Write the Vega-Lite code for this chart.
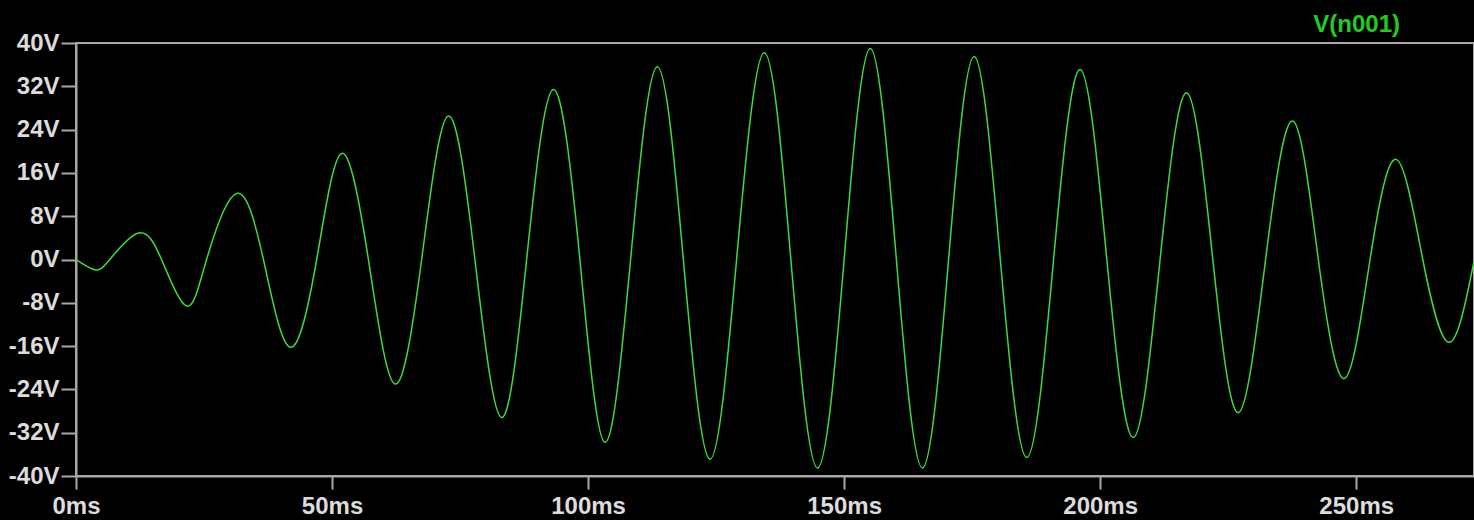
{
  "$schema": "https://vega.github.io/schema/vega-lite/v6.json",
  "autosize": {"type": "none"},
  "width": 1398,
  "height": 433,
  "padding": {"left": 76, "top": 43, "right": 0, "bottom": 44},
  "background": "#000000",
  "title": {
    "text": "V(n001)",
    "anchor": "end",
    "dx": -74,
    "dy": 8,
    "offset": 2,
    "fontSize": 24,
    "font": "Liberation Sans",
    "fontWeight": "bold",
    "color": "#22cc22"
  },
  "config": {
    "view": {"stroke": "#a8a8a8", "strokeWidth": 2, "fill": "#000000"},
    "axis": {
      "grid": false,
      "domainColor": "#a8a8a8",
      "domainWidth": 2,
      "tickColor": "#a8a8a8",
      "tickWidth": 2,
      "labelFont": "Liberation Sans",
      "labelFontWeight": "bold",
      "labelFontSize": 24,
      "labelColor": "#dcdcdc",
      "title": null
    }
  },
  "data": {
    "values": [
      {"t": 0, "v": 0},
      {"t": 3.7, "v": -1.9},
      {"t": 6.6, "v": 0},
      {"t": 12.2, "v": 4.9},
      {"t": 16.7, "v": 0},
      {"t": 21.6, "v": -8.6},
      {"t": 25.5, "v": 0},
      {"t": 31.4, "v": 12.2},
      {"t": 36.6, "v": 0},
      {"t": 41.8, "v": -16.2},
      {"t": 47.0, "v": 0},
      {"t": 51.9, "v": 19.6},
      {"t": 57.1, "v": 0},
      {"t": 62.3, "v": -23.0},
      {"t": 67.5, "v": 0},
      {"t": 72.7, "v": 26.5},
      {"t": 77.9, "v": 0},
      {"t": 83.1, "v": -29.2},
      {"t": 88.0, "v": 0},
      {"t": 93.2, "v": 31.4},
      {"t": 98.4, "v": 0},
      {"t": 103.3, "v": -33.8},
      {"t": 108.3, "v": 0},
      {"t": 113.5, "v": 35.6},
      {"t": 118.6, "v": 0},
      {"t": 123.8, "v": -36.9},
      {"t": 129.0, "v": 0},
      {"t": 134.4, "v": 38.2},
      {"t": 139.6, "v": 0},
      {"t": 144.8, "v": -38.5},
      {"t": 150.0, "v": 0},
      {"t": 155.1, "v": 39.0},
      {"t": 160.2, "v": 0},
      {"t": 165.3, "v": -38.5},
      {"t": 170.4, "v": 0},
      {"t": 175.4, "v": 37.5},
      {"t": 180.5, "v": 0},
      {"t": 185.7, "v": -36.6},
      {"t": 190.9, "v": 0},
      {"t": 196.1, "v": 35.1},
      {"t": 201.3, "v": 0},
      {"t": 206.5, "v": -32.9},
      {"t": 211.7, "v": 0},
      {"t": 216.9, "v": 30.8},
      {"t": 222.0, "v": 0},
      {"t": 227.0, "v": -28.3},
      {"t": 232.3, "v": 0},
      {"t": 237.6, "v": 25.6},
      {"t": 242.6, "v": 0},
      {"t": 247.7, "v": -22.0},
      {"t": 252.7, "v": 0},
      {"t": 257.8, "v": 18.5},
      {"t": 263.0, "v": 0},
      {"t": 268.2, "v": -15.3},
      {"t": 273.0, "v": -0.3}
    ]
  },
  "mark": {"type": "line", "interpolate": "natural", "color": "#3ddc3d", "strokeWidth": 1.5, "clip": true},
  "encoding": {
    "x": {
      "field": "t",
      "type": "quantitative",
      "scale": {"domain": [0, 273], "nice": false, "zero": false},
      "axis": {
        "values": [0, 50, 100, 150, 200, 250],
        "labelExpr": "datum.value + 'ms'",
        "tickSize": 13,
        "labelPadding": 5,
        "labelFlush": false,
        "labelOverlap": false
      }
    },
    "y": {
      "field": "v",
      "type": "quantitative",
      "scale": {"domain": [-40, 40], "nice": false},
      "axis": {
        "values": [-40, -32, -24, -16, -8, 0, 8, 16, 24, 32, 40],
        "labelExpr": "datum.value + 'V'",
        "tickSize": 15,
        "labelPadding": 2,
        "labelFlush": false,
        "labelOverlap": false
      }
    }
  }
}
